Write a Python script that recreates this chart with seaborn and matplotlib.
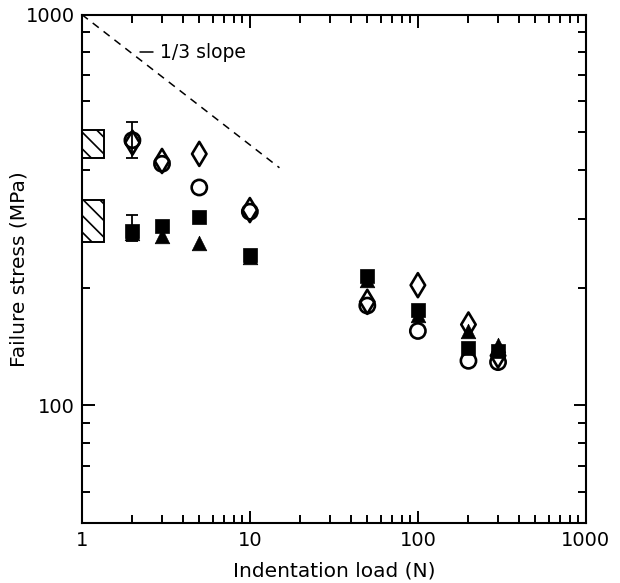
import matplotlib
matplotlib.use("Agg")
import matplotlib.pyplot as plt
import matplotlib.ticker as mticker
from matplotlib.patches import Rectangle
import seaborn as sns

# indentation loads (N)
loads = [2, 3, 5, 10, 50, 100, 200, 300]

# failure stress (MPa) per series
open_circle = [477, 415, 361, 313, 180, 155, 130, 129]
open_diamond = [470, 422, 440, 316, 184, 203, 161, 134]
filled_square = [280, 287, 304, 243, 214, 175, 140, 138]
filled_triangle = [276, 272, 260, 240, 209, 170, 155, 143]

# error bars at 2 N
err_x = [2, 2]
err_lo = [429, 263]
err_hi = [532, 307]
err_mid = [477, 280]

# unindented strength bands (MPa)
band_lo = [430, 262]
band_hi = [507, 336]
band_x = [1.0, 1.35]

# 1/3 slope guide
slope_x = [1, 15]
slope_y = [1000 * x ** (-1 / 3) for x in slope_x]

sns.set_theme(style="ticks")
plt.rcParams["font.family"] = ["DejaVu Sans"]
plt.rcParams["hatch.linewidth"] = 1.2

fig, ax = plt.subplots(figsize=(6.2, 5.83), dpi=100)
fig.subplots_adjust(left=0.132, right=0.945, top=0.975, bottom=0.103)
ax.set_facecolor("white")

sns.scatterplot(x=loads, y=open_circle, marker="o", s=120, facecolor="none",
                edgecolor="black", linewidth=1.9, ax=ax, zorder=3)
sns.scatterplot(x=loads, y=open_diamond, marker="d", s=150, facecolor="none",
                edgecolor="black", linewidth=1.9, ax=ax, zorder=3)
sns.scatterplot(x=loads, y=filled_square, marker="s", s=100, color="black",
                edgecolor="black", linewidth=0.5, ax=ax, zorder=3)
sns.scatterplot(x=loads, y=filled_triangle, marker="^", s=110, color="black",
                edgecolor="black", linewidth=0.5, ax=ax, zorder=3)

yerr = [[m - lo for m, lo in zip(err_mid, err_lo)],
        [hi - m for m, hi in zip(err_mid, err_hi)]]
ax.errorbar(err_x, err_mid, yerr=yerr, fmt="none", ecolor="black",
            elinewidth=1.3, capsize=4, capthick=1.3, zorder=2)

for lo, hi in zip(band_lo, band_hi):
    ax.add_patch(Rectangle((band_x[0], lo), band_x[1] - band_x[0], hi - lo,
                           facecolor="white", edgecolor="black", hatch="\\\\",
                           linewidth=1.4, zorder=2))

ax.plot(slope_x, slope_y, linestyle=(0, (5, 4)), color="black", linewidth=1.1)
ax.plot([2.21, 2.65], [802, 802], color="black", linewidth=1.1)
ax.text(2.91, 802, "1/3 slope", fontsize=13.5, va="center", ha="left",
        color="black")

ax.set_xscale("log")
ax.set_yscale("log")
ax.set_xlim(1, 1000)
ax.set_ylim(50, 1000)

ax.xaxis.set_major_locator(mticker.FixedLocator([1, 10, 100, 1000]))
ax.xaxis.set_major_formatter(mticker.FixedFormatter(["1", "10", "100", "1000"]))
ax.yaxis.set_major_locator(mticker.FixedLocator([100, 1000]))
ax.yaxis.set_major_formatter(mticker.FixedFormatter(["100", "1000"]))
ax.xaxis.set_minor_locator(mticker.LogLocator(base=10, subs=range(2, 10)))
ax.yaxis.set_minor_locator(mticker.LogLocator(base=10, subs=range(2, 10)))
ax.xaxis.set_minor_formatter(mticker.NullFormatter())
ax.yaxis.set_minor_formatter(mticker.NullFormatter())

ax.tick_params(which="both", direction="in", top=True, right=True,
               color="black", labelcolor="black", labelsize=14, width=1.4)
ax.tick_params(which="major", length=9)
ax.tick_params(which="minor", length=6)
ax.tick_params(axis="x", pad=6)
ax.tick_params(axis="y", pad=5)
for sp in ax.spines.values():
    sp.set_linewidth(1.5)
    sp.set_color("black")

ax.set_xlabel("Indentation load (N)", fontsize=14.5, color="black")
ax.set_ylabel("Failure stress (MPa)", fontsize=14.5, color="black")
ax.xaxis.set_label_coords(0.5, -0.075)
ax.yaxis.set_label_coords(-0.105, 0.5)

fig.savefig("out.png", dpi=100)
